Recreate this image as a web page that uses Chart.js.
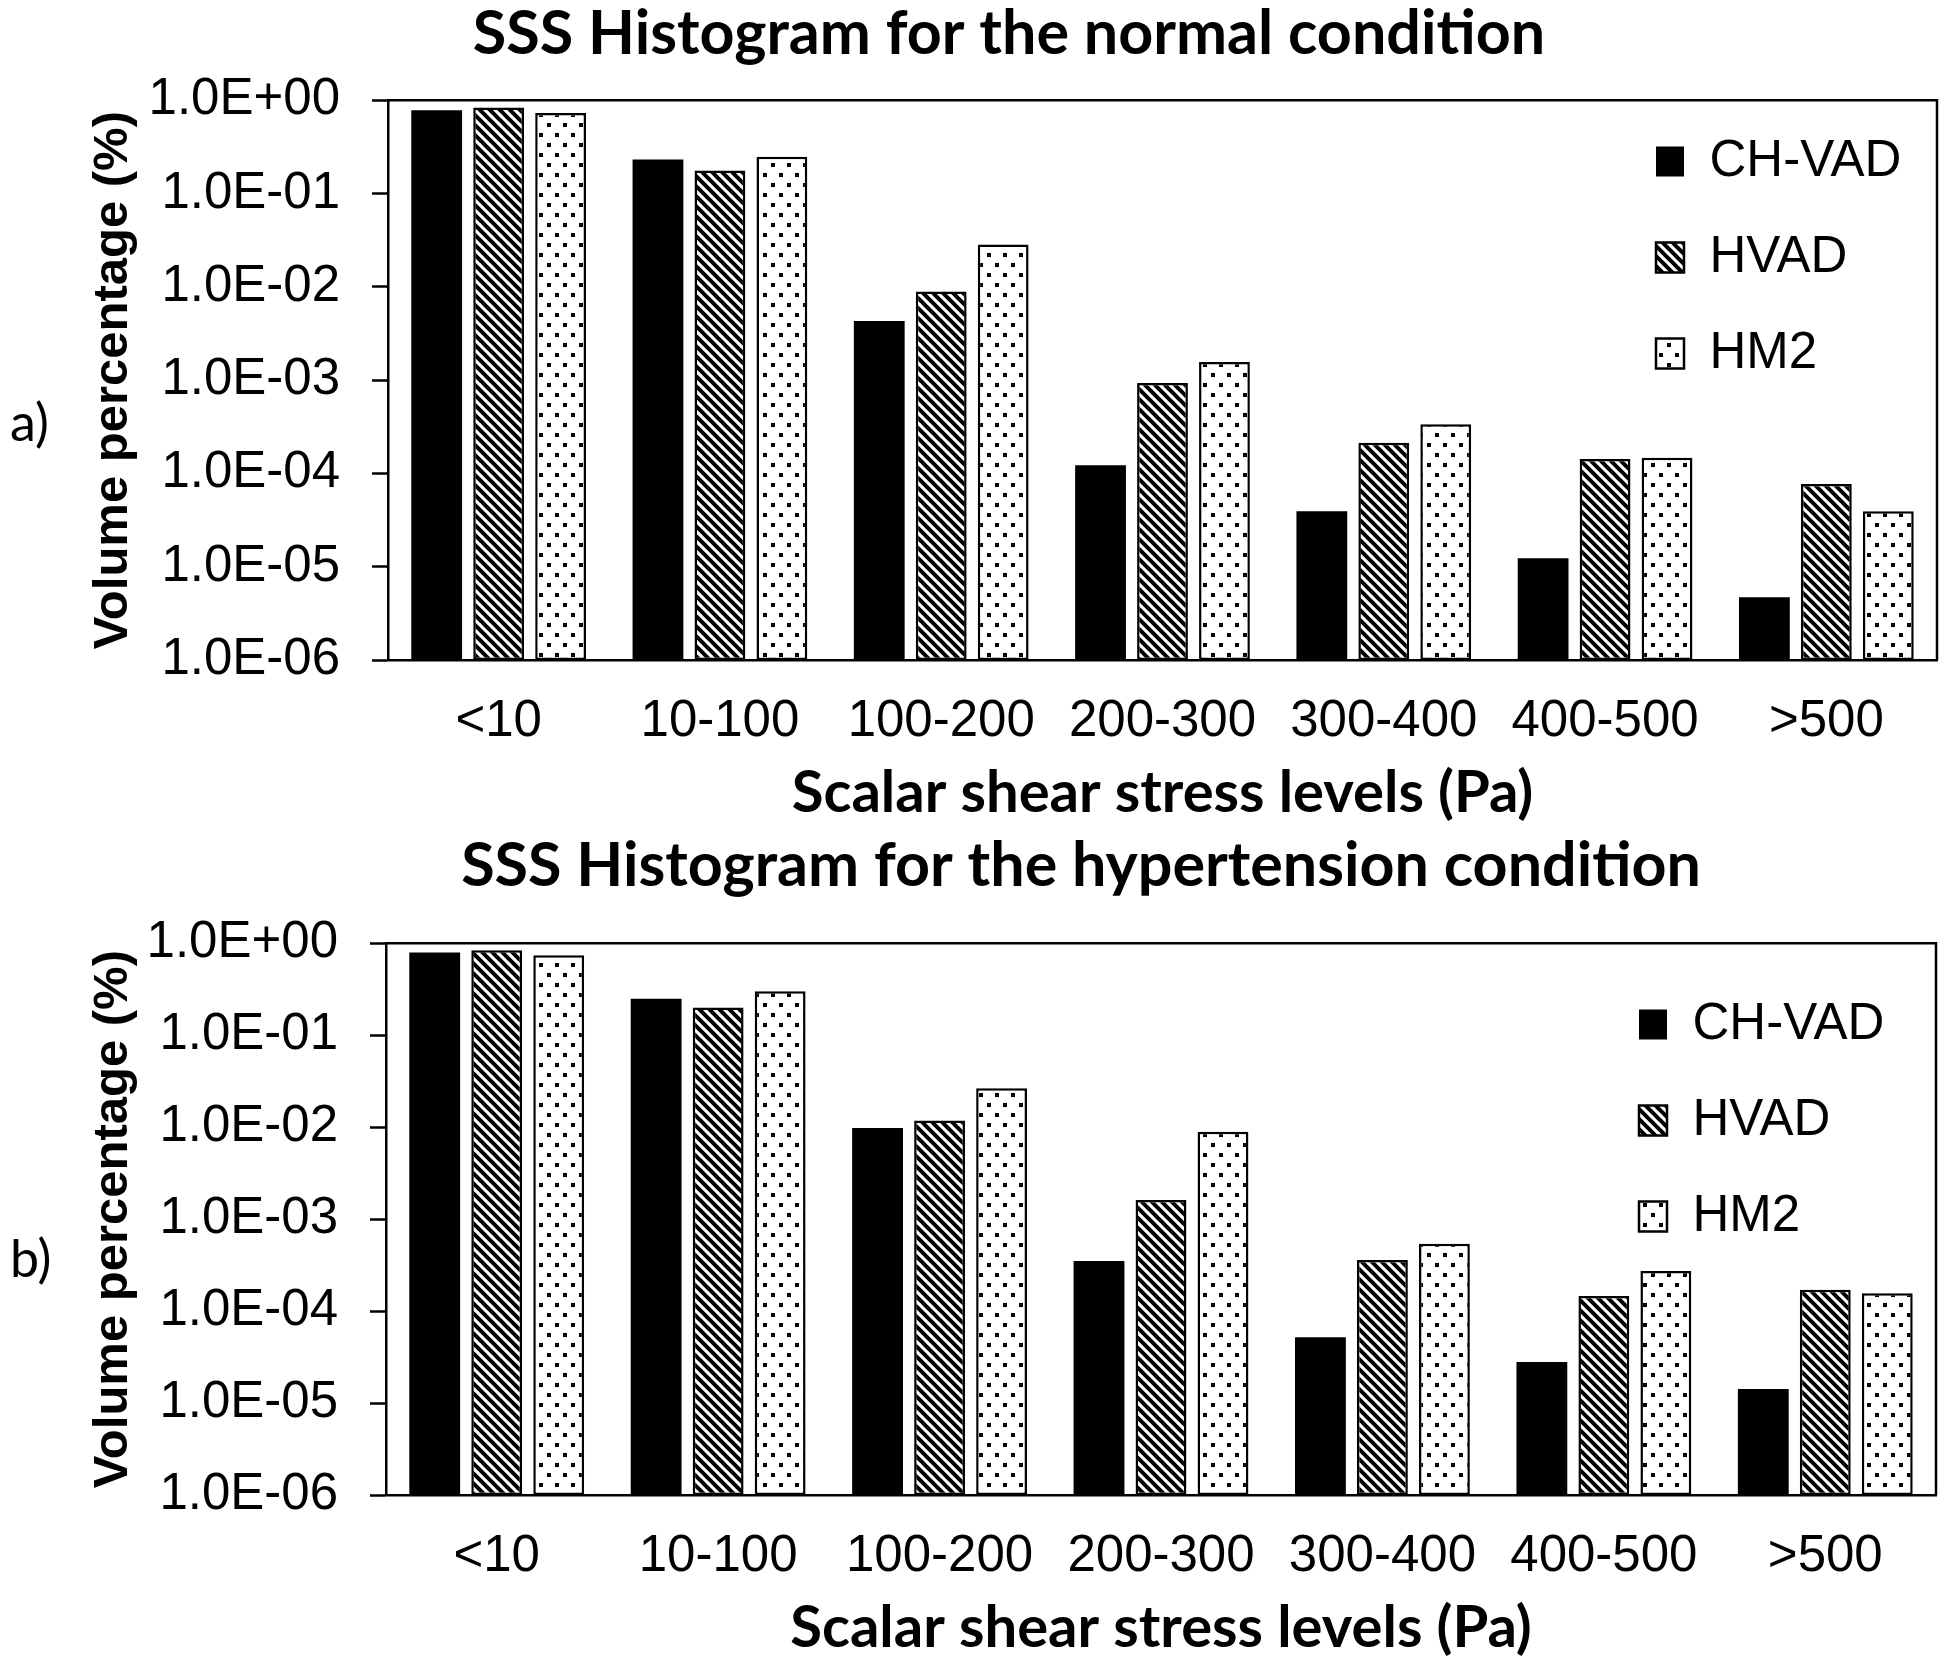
<!DOCTYPE html>
<html>
<head>
<meta charset="utf-8">
<script src="https://cdn.jsdelivr.net/npm/chart.js@4.4.1/dist/chart.umd.min.js"></script>
<style>
  body { margin: 0; background: #fff; width: 1950px; height: 1659px; position: relative; overflow: hidden; }
  .panel { position: absolute; left: 0; width: 1950px; height: 829px; }
  .tag { position: absolute; left: 10px; font-family: Lato, "Open Sans", sans-serif; font-size: 52px; line-height: 1; color: #000; }
</style>
</head>
<body>
<div class="panel" style="top:0px"><canvas id="chartA" width="1950" height="829"></canvas></div>
<div class="panel" style="top:830px"><canvas id="chartB" width="1950" height="829"></canvas></div>
<div class="tag" style="top:395px">a)</div>
<div class="tag" style="top:1231px">b)</div>

<script>
const categories = ["<10", "10-100", "100-200", "200-300", "300-400", "400-500", ">500"];
const seriesNames = ["CH-VAD", "HVAD", "HM2"];
const yTicks = [1, 1e-1, 1e-2, 1e-3, 1e-4, 1e-5, 1e-6];

// a) normal condition
const normalChVad = [0.78, 0.231, 0.0043, 1.22e-4, 3.94e-5, 1.23e-5, 4.7e-6];
const normalHvad  = [0.835, 0.176, 0.0089, 9.3e-4, 2.13e-4, 1.43e-4, 7.7e-5];
const normalHm2   = [0.73, 0.247, 0.0284, 1.56e-3, 3.37e-4, 1.47e-4, 3.94e-5];

// b) hypertension condition
const hyperChVad = [0.79, 0.249, 0.0098, 3.5e-4, 5.2e-5, 2.8e-5, 1.42e-5];
const hyperHvad  = [0.84, 0.2, 0.0118, 1.61e-3, 3.6e-4, 1.46e-4, 1.71e-4];
const hyperHm2   = [0.74, 0.3, 0.0264, 8.9e-3, 5.4e-4, 2.72e-4, 1.56e-4];

Chart.defaults.color = "#000";

const tickFont = { family: "'Liberation Sans', Arial, sans-serif", size: 51 };
const headFont = { family: "Lato, 'Open Sans', sans-serif", weight: "bold", size: 61 };
const axisFont = { family: "Lato, 'Open Sans', sans-serif", weight: "bold", size: 58 };

function stripePattern() {
  const c = document.createElement("canvas");
  c.width = 10; c.height = 10;
  const g = c.getContext("2d");
  g.fillStyle = "#fff";
  g.fillRect(0, 0, 10, 10);
  g.strokeStyle = "#000";
  g.lineWidth = 4;
  g.beginPath();
  [-10, 0, 10].forEach(off => {
    g.moveTo(off - 2, -2);
    g.lineTo(off + 12, 12);
  });
  g.stroke();
  return g.createPattern(c, "repeat");
}

function dotPattern() {
  const c = document.createElement("canvas");
  c.width = 16; c.height = 20;
  const g = c.getContext("2d");
  g.fillStyle = "#fff";
  g.fillRect(0, 0, 16, 20);
  g.fillStyle = "#000";
  g.fillRect(3, 3, 4, 4);
  g.fillRect(11, 13, 4, 4);
  return g.createPattern(c, "repeat");
}

function sci(v) {
  const e = Math.round(Math.log10(v));
  const m = v / Math.pow(10, e);
  return m.toFixed(1) + "E" + (e < 0 ? "-" : "+") + String(Math.abs(e)).padStart(2, "0");
}

// top and right edges of the plot box
const frame = {
  id: "frame",
  afterDraw(chart) {
    const { ctx, chartArea: a } = chart;
    ctx.save();
    ctx.strokeStyle = "#000";
    ctx.lineWidth = 2.5;
    ctx.beginPath();
    ctx.moveTo(a.left, a.top);
    ctx.lineTo(a.right, a.top);
    ctx.lineTo(a.right, a.bottom);
    ctx.stroke();
    ctx.restore();
  }
};

// legend inside the upper right of the plot, title shifted off centre
const boxSpot = {
  id: "boxSpot",
  afterLayout(chart, args, opts) {
    const lg = chart.legend;
    lg.left = opts.legendX;
    lg.top = opts.legendY;
    lg.right = chart.width;
    lg.bottom = chart.height;
    const tb = chart.titleBlock;
    tb.left = opts.titleX - 900;
    tb.right = opts.titleX + 900;
  }
};

function makeChart(id, title, values, geo) {
  const fills = ["#000", stripePattern(), dotPattern()];
  const borders = [0, 2.5, 2.5];

  return new Chart(document.getElementById(id), {
    type: "bar",
    data: {
      labels: categories,
      datasets: seriesNames.map((name, i) => ({
        label: name,
        data: values[i],
        backgroundColor: fills[i],
        borderColor: "#000",
        borderWidth: borders[i],
        borderSkipped: false,
        categoryPercentage: 0.84,
        barPercentage: 0.82
      }))
    },
    plugins: [frame, boxSpot],
    options: {
      responsive: false,
      animation: false,
      events: [],
      layout: { padding: { left: 0, right: geo.padRight, top: 0, bottom: 0 } },
      plugins: {
        title: {
          display: true,
          text: title,
          font: headFont,
          padding: { top: geo.titleTop, bottom: geo.titleBottom }
        },
        legend: {
          position: "chartArea",
          align: "start",
          labels: { font: tickFont, boxWidth: 28, boxHeight: 30, padding: 45 }
        },
        boxSpot: { legendX: geo.legendX, legendY: geo.legendY, titleX: geo.titleX },
        tooltip: { enabled: false }
      },
      scales: {
        x: {
          grid: { drawOnChartArea: false, drawTicks: false },
          border: { color: "#000", width: 2.5 },
          ticks: { font: tickFont, padding: 31, maxRotation: 0, minRotation: 0, autoSkip: false },
          title: {
            display: true,
            text: "Scalar shear stress levels (Pa)",
            font: axisFont,
            padding: { top: 0, bottom: geo.xTitleBottom }
          },
          afterFit: s => { s.height = geo.xHeight; }
        },
        y: {
          type: "logarithmic",
          min: 1e-6,
          max: 1,
          afterBuildTicks: s => { s.ticks = yTicks.map(v => ({ value: v })); },
          grid: { drawOnChartArea: false, drawTicks: true, tickLength: 16, tickColor: "#000", tickWidth: 2.5 },
          border: { color: "#000", width: 2.5 },
          ticks: { font: tickFont, padding: 32, autoSkip: false, callback: v => sci(v) },
          title: {
            display: true,
            text: "Volume percentage (%)",
            font: { family: "'Liberation Sans', Arial, sans-serif", weight: "bold", size: 49 },
            padding: { top: 84, bottom: 0 }
          },
          afterFit: s => { s.width = geo.plotLeft; }
        }
      }
    }
  });
}

makeChart("chartA", "SSS Histogram for the normal condition",
  [normalChVad, normalHvad, normalHm2],
  { padRight: 13, plotLeft: 388, titleTop: -2, titleBottom: 29, titleX: 1009,
    xHeight: 169, xTitleBottom: 1, legendX: 1611, legendY: 91 });

makeChart("chartB", "SSS Histogram for the hypertension condition",
  [hyperChVad, hyperHvad, hyperHm2],
  { padRight: 14, plotLeft: 386, titleTop: 0, titleBottom: 40, titleX: 1081,
    xHeight: 164, xTitleBottom: -4, legendX: 1594, legendY: 124 });
</script>
</body>
</html>
